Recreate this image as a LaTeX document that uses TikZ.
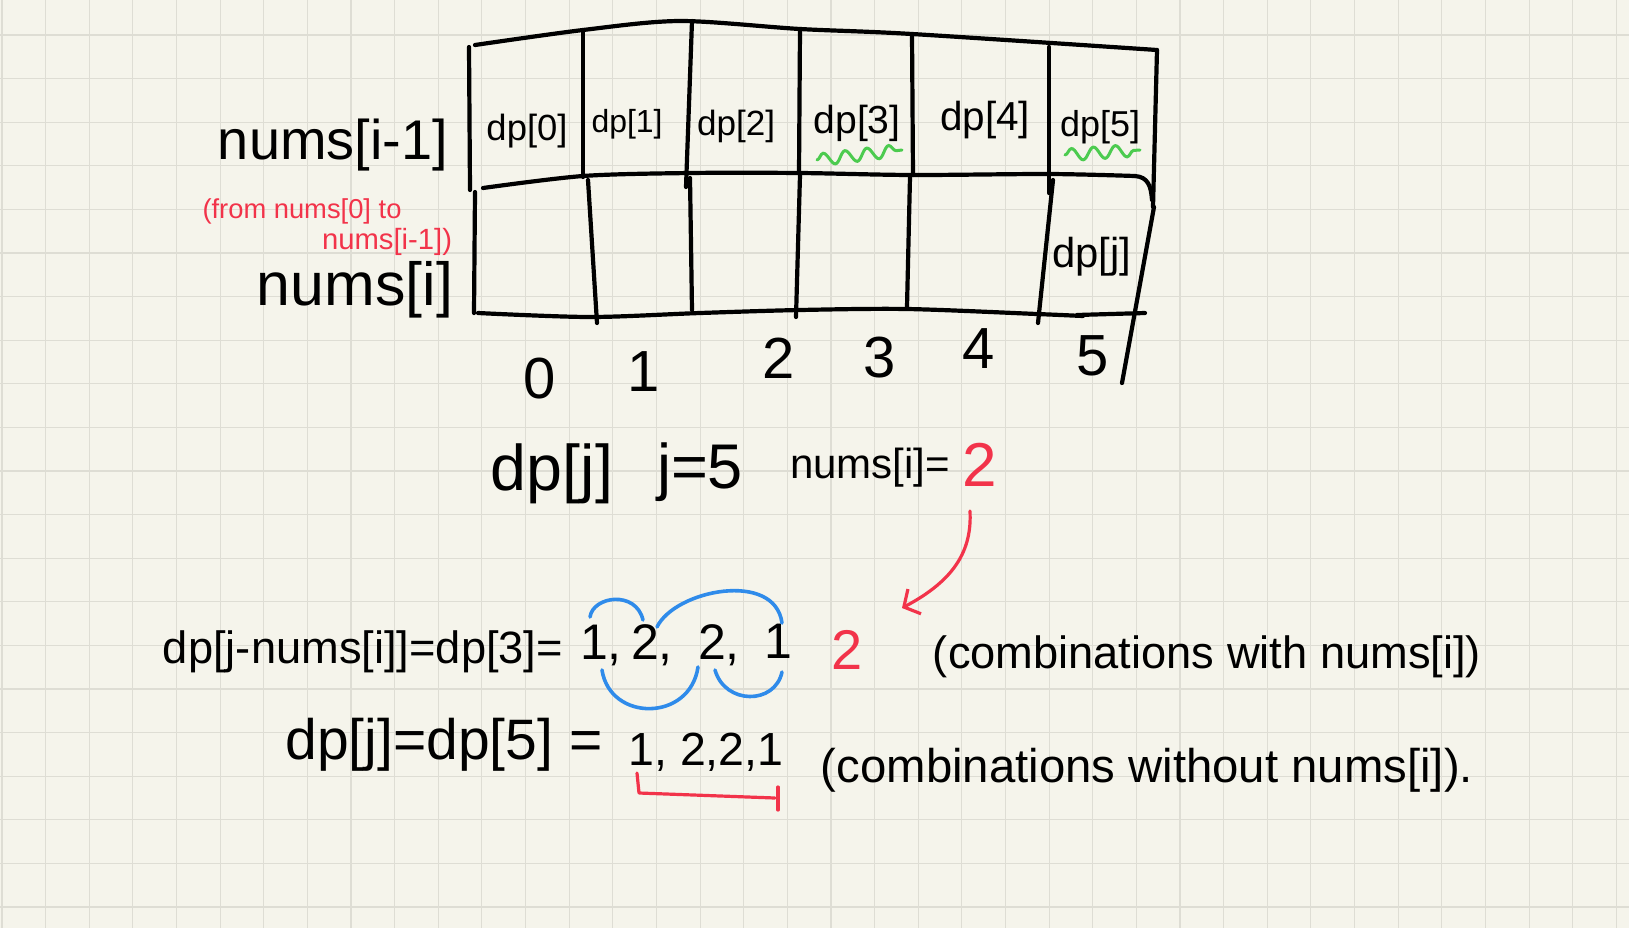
\documentclass[tikz,border=0pt]{standalone}
\usepackage{fontspec}
\setmainfont{Liberation Sans}
\usetikzlibrary{decorations.pathmorphing,arrows.meta,calc}
\definecolor{paper}{HTML}{F5F4EB}
\definecolor{gridc}{HTML}{DEDDD4}
\definecolor{penred}{HTML}{F2334A}
\definecolor{penblue}{HTML}{2F8BEA}
\definecolor{pengreen}{HTML}{4CCB4F}
\newcommand\fitw[2]{\resizebox{#1pt}{!}{#2}}
\newcommand\fsz[1]{\fontsize{#1}{#1}\selectfont}
\begin{document}
\begin{tikzpicture}[x=0.5pt,y=-0.5pt,
  ink/.style={line width=2.1pt, line cap=round, line join=round, black},
  gridline/.style={gridc, line width=0.55pt},
  txt/.style={inner sep=0pt, text=black},
  rtxt/.style={inner sep=0pt, text=penred},
  wave/.style={pengreen, line width=1.5pt, line cap=round,
    decorate, decoration={snake, segment length=11pt, amplitude=3pt}},
  loop/.style={penblue, line width=1.8pt, line cap=round},
  redpen/.style={penred, line width=1.6pt, line cap=round, line join=round},
  redarrow/.style={penred, line width=1.6pt, line cap=round,
    -{Straight Barb[length=6pt,width=14pt,line width=1.6pt]}}]
% paper and grid
\fill[paper] (0,0) rectangle (1629,928);
\useasboundingbox (0,0) rectangle (1629,928);
\foreach \k in {0,...,37} \draw[gridline] ({2+43.63*\k},0) -- ({2+43.63*\k},928);
\foreach \k in {0,...,20} \draw[gridline] (0,{35+43.6*\k}) -- (1629,{35+43.6*\k});

% table outline
\draw[ink] plot[smooth] coordinates {(475,45) (583,30) (680,21) (800,29) (912,34) (1157,50)};
\draw[ink] (1157,50) -- (1153,207);
\draw[ink] (1154,207) -- (1122,383);
\draw[ink] plot[smooth] coordinates {(483,188) (583,176) (690,173) (800,173) (912,175) (1049,174) (1135,176)};
\draw[ink] (1135,176) .. controls (1148,177) and (1151,186) .. (1152,200);
\draw[ink] (469,47) -- (470,190);
\draw[ink] (475,192) -- (474,313);
\draw[ink] plot[smooth] coordinates {(478,313) (590,317) (700,313) (800,310) (907,309) (1037,314) (1083,316)};
\draw[ink] (1077,315) -- (1145,313);
% column dividers
\draw[ink] (583,30) -- (583,177);   \draw[ink] (588,180) -- (597,323);
\draw[ink] (692,21) -- (686,187);   \draw[ink] (690,178) -- (692,310);
\draw[ink] (800,29) -- (799,173);   \draw[ink] (800,175) -- (796,317);
\draw[ink] (912,34) -- (913,175);   \draw[ink] (910,177) -- (907,307);
\draw[ink] (1049,47) -- (1049,193); \draw[ink] (1053,180) -- (1038,323);

% row labels
\node[txt] (rowa) at (333,145) {\fitw{115}{nums[i-1]}};
\node[rtxt] (froma) at (302,211) {\fitw{99.5}{(from nums[0] to}};
\node[rtxt] (fromb) at (387,242) {\fitw{65}{nums[i-1])}};
\node[txt] (rowb) at (355,290) {\fitw{98}{nums[i]}};

% cells
\node[txt] (c0) at (527,131) {\fitw{40.5}{dp[0]}};
\node[txt] (c1) at (627,124) {\fitw{35.5}{dp[1]}};
\node[txt] (c2) at (736,126) {\fitw{39}{dp[2]}};
\node[txt] (c3) at (857,123) {\fitw{43.5}{dp[3]}};
\node[txt] (c4) at (985,120) {\fitw{45}{dp[4]}};
\node[txt] (c5) at (1100,127) {\fitw{40}{dp[5]}};
\node[txt] (cj) at (1092,257) {\fitw{39.5}{dp[j]}};
\draw[wave] (817,160) -- (902,150);
\draw[wave] (1065,155) -- (1140,150);

% indices
\node[txt] (i0) at (540,379) {\fsz{29}0};
\node[txt] (i1) at (644,372) {\fsz{29}1};
\node[txt] (i2) at (779,358) {\fsz{29}2};
\node[txt] (i3) at (880,358) {\fsz{29}3};
\node[txt] (i4) at (979,349) {\fsz{29}4};
\node[txt] (i5) at (1093,356) {\fsz{29}5};

% middle line
\node[txt] (dpj) at (552,474) {\fitw{61}{dp[j]}};
\node[txt] (jfive) at (700,472) {\fitw{43}{j=5}};
\node[txt] (numsi) at (870,468) {\fitw{80}{nums[i]=}};
\node[rtxt] (r2a) at (980,465) {\fsz{31}2};

% line 1
\node[txt] (eqa) at (363,652) {\fitw{200}{dp[j-nums[i]]=dp[3]=}};
\node[txt] (d1) at (601,645) {\fsz{25}1,};
\node[txt] (d2) at (652,645) {\fsz{25}2,};
\node[txt] (d3) at (719,645) {\fsz{25}2,};
\node[txt] (d4) at (778,641) {\fsz{25}1};
\node[rtxt] (r2b) at (847,650) {\fsz{28}2};
\node[txt] (with) at (1207,657) {\fitw{274}{(combinations with nums[i])}};

% line 2
\node[txt] (eqb) at (444,745) {\fitw{158.5}{dp[j]=dp[5] =}};
\node[txt] (seq) at (706,752) {\fitw{77.5}{1, 2,2,1}};
\node[txt] (without) at (1147,770) {\fitw{326}{(combinations without nums[i]).}};

% blue loops
\draw[loop] (590,617) .. controls (593,596) and (636,590) .. (643,620);
\draw[loop] (657,627) .. controls (675,590) and (775,570) .. (782,623);
\draw[loop] (602,670) .. controls (610,722) and (690,722) .. (698,667);
\draw[loop] (715,670) .. controls (725,705) and (775,705) .. (782,672);

% red bracket
\draw[redpen] (637,773) -- (639,793) -- (775,798);
\draw[redpen] (778,787) -- (778,810);

% red arrow
\coordinate (tip) at (902,608);
\draw[redarrow] ([xshift=-5pt,yshift=-12pt]r2a.south) .. controls (972,550) and (955,580) .. (tip);
\end{tikzpicture}
\end{document}
